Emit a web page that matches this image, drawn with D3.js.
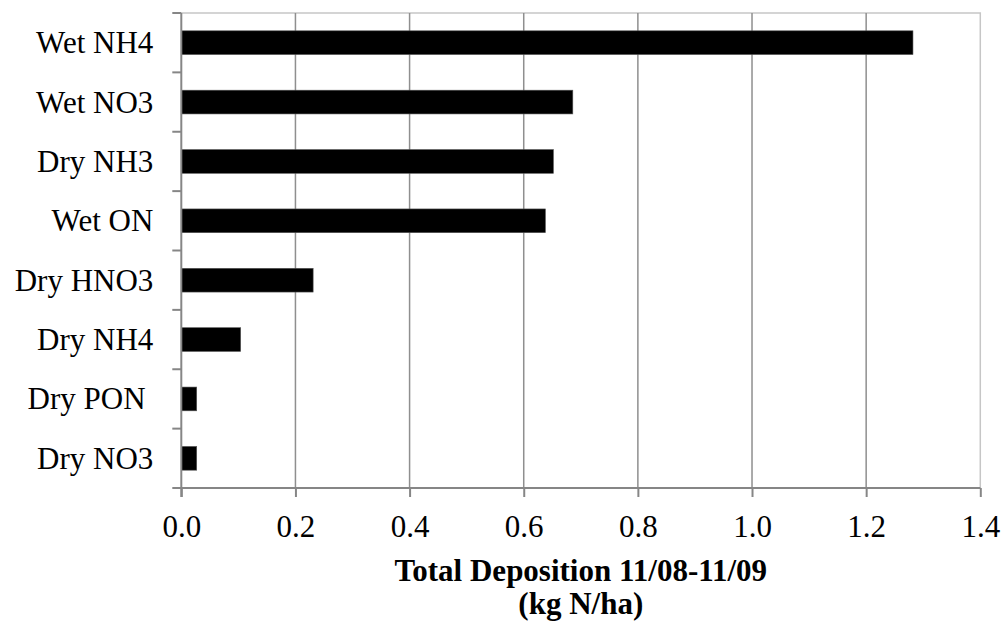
<!DOCTYPE html>
<html><head><meta charset="utf-8">
<script src="https://cdn.jsdelivr.net/npm/d3@7"></script>
<style>
html,body{margin:0;padding:0;background:#fff;}
</style></head>
<body>
<svg id="c" width="1002" height="623"></svg>
<script>
const categories = ["Wet NH4","Wet NO3","Dry NH3","Wet ON","Dry HNO3","Dry NH4","Dry PON ","Dry NO3"];
const values = [1.282,0.686,0.652,0.638,0.231,0.104,0.027,0.027];
const xTicks = [0,0.2,0.4,0.6,0.8,1.0,1.2,1.4];
const titleLines = ["Total Deposition 11/08-11/09","(kg N/ha)"];

const FONT = "'Liberation Serif'";
const svg = d3.select("#c");
const L=181.3, R=980.3, T=13, B=488;
const x = d3.scaleLinear().domain([0,1.4]).range([L,R]);
const y = d3.scaleBand().domain(categories).range([T,B]).paddingInner(0.6).paddingOuter(0.3);
const yb = d3.scaleBand().domain(categories).range([T,B]);

// plot border (top/right)
svg.append("path").attr("d",`M${L},${T}H${R}V${B}`).attr("fill","none").attr("stroke","#c6c6c6").attr("stroke-width",1.5);
// gridlines
svg.append("g").selectAll("line").data(xTicks.slice(1,-1)).join("line")
  .attr("x1",d=>x(d)).attr("x2",d=>x(d)).attr("y1",T).attr("y2",B)
  .attr("stroke","#8f8f8f").attr("stroke-width",1.5);

// bars
svg.append("g").selectAll("rect").data(values).join("rect")
  .attr("x",x(0)).attr("y",(d,i)=>y(categories[i]))
  .attr("width",d=>x(d)-x(0)).attr("height",y.bandwidth())
  .attr("fill","#000").attr("stroke","#555").attr("stroke-width",0.6);

// x axis
const xa = svg.append("g").attr("transform",`translate(0,${B})`)
  .call(d3.axisBottom(x).tickValues(xTicks).tickFormat(d3.format(".1f")).tickSize(9).tickSizeOuter(0));
xa.select(".domain").attr("stroke","#868686").attr("stroke-width",2).attr("d",`M${L-9},0H${R}`);
xa.selectAll(".tick line").attr("stroke","#868686").attr("stroke-width",2);
xa.selectAll(".tick text").attr("fill","#000").attr("y",null).attr("dy",null)
  .attr("transform","translate(0,49)")
  .style("font-family",FONT).style("font-size","31px");

// y axis
const ya = svg.append("g").attr("transform",`translate(${L},0)`);
ya.append("line").attr("x1",0).attr("x2",0).attr("y1",T).attr("y2",B+9).attr("stroke","#868686").attr("stroke-width",2);
const bounds = categories.map(c=>yb(c));
ya.selectAll("line.tk").data(bounds).join("line").attr("class","tk")
  .attr("x1",-9).attr("x2",0).attr("y1",d=>d).attr("y2",d=>d).attr("stroke","#868686").attr("stroke-width",2);
ya.selectAll("text").data(categories).join("text")
  .attr("x",-28).attr("y",d=>yb(d)+yb.bandwidth()/2+10.5)
  .attr("text-anchor","end").attr("fill","#000")
  .style("font-family",FONT).style("font-size","31px")
  .style("white-space","pre").text(d=>d);

// title
svg.append("g").selectAll("text").data(titleLines).join("text")
  .attr("x",(L+R)/2).attr("y",(d,i)=>581+i*33)
  .attr("text-anchor","middle").attr("fill","#000")
  .style("font-family",FONT).style("font-size","31px").style("font-weight","bold")
  .text(d=>d);
</script>
</body></html>
